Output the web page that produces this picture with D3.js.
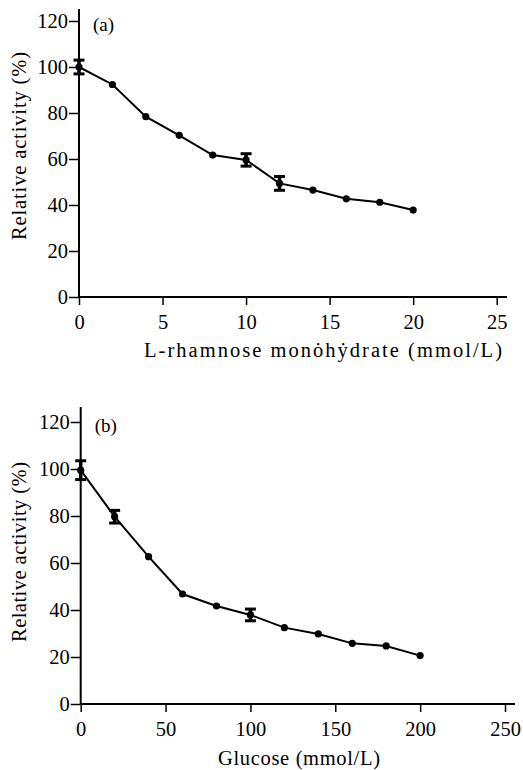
<!DOCTYPE html>
<html>
<head>
<meta charset="utf-8">
<script src="https://cdn.jsdelivr.net/npm/d3@7"></script>
<style>
  body { margin: 0; background: #fff; }
</style>
</head>
<body>
<svg id="chart" width="523" height="770"></svg>
<script>
// panel (a) data: L-rhamnose monohydrate
const rhamX = [0, 2, 4, 6, 8, 10, 12, 14, 16, 18, 20];
const rhamY = [100, 92.4, 78.4, 70.3, 61.7, 59.6, 49.4, 46.5, 42.7, 41.2, 37.8];
const rhamErr = [3, 0, 0, 0, 0, 2.7, 3, 0, 0, 0, 0];

// panel (b) data: glucose
const glucX = [0, 20, 40, 60, 80, 100, 120, 140, 160, 180, 200];
const glucY = [99.5, 79.7, 62.7, 46.8, 41.7, 37.9, 32.5, 29.8, 25.8, 24.7, 20.6];
const glucErr = [4, 2.7, 0, 0, 0, 2.5, 0, 0, 0, 0, 0];

const yTicks = [0, 20, 40, 60, 80, 100, 120];
const rhamTicks = [0, 5, 10, 15, 20, 25];
const glucTicks = [0, 50, 100, 150, 200, 250];

const FONT = '"Liberation Serif", "Times New Roman", serif';
const svg = d3.select('#chart');

function drawPanel(opts) {
    const g = svg.append('g');
    const x = d3.scaleLinear().domain(opts.xDomain).range([opts.left, opts.right]);
    const y = d3.scaleLinear().domain([0, 120]).range([opts.bottom, opts.top120]);

    // axes
    const xAxis = g.append('g')
        .attr('transform', `translate(0,${opts.bottom})`)
        .call(d3.axisBottom(x).tickValues(opts.xTicks).tickSize(8).tickPadding(5).tickSizeOuter(0));
    const yAxis = g.append('g')
        .attr('transform', `translate(${opts.left},0)`)
        .call(d3.axisLeft(y).tickValues(yTicks).tickSize(10).tickPadding(1).tickSizeOuter(0));

    [xAxis, yAxis].forEach(a => {
        a.attr('font-family', null).attr('font-size', null);
        a.select('.domain').remove();
        a.selectAll('line').attr('stroke', '#000').attr('stroke-width', 1.5);
        a.selectAll('text').style('font-family', FONT).style('font-size', '20.5px').attr('fill', '#000');
    });
    xAxis.selectAll('text').attr('dy', '0.95em');

    // axis lines, extended a bit past the last tick
    g.append('line')
        .attr('x1', opts.left).attr('x2', opts.axisEndX)
        .attr('y1', opts.bottom).attr('y2', opts.bottom)
        .attr('stroke', '#000').attr('stroke-width', 2);
    g.append('line')
        .attr('x1', opts.left).attr('x2', opts.left)
        .attr('y1', opts.bottom).attr('y2', opts.axisTopY)
        .attr('stroke', '#000').attr('stroke-width', 2);

    const pts = opts.xs.map((v, i) => ({ x: v, y: opts.ys[i], e: opts.errs[i] }));

    // line
    g.append('path')
        .datum(pts)
        .attr('fill', 'none')
        .attr('stroke', '#000')
        .attr('stroke-width', 2)
        .attr('d', d3.line().x(d => x(d.x)).y(d => y(d.y)));

    // error bars
    const eb = g.selectAll('.err').data(pts.filter(d => d.e > 0)).enter().append('g');
    eb.append('line')
        .attr('x1', d => x(d.x)).attr('x2', d => x(d.x))
        .attr('y1', d => y(d.y - d.e)).attr('y2', d => y(d.y + d.e))
        .attr('stroke', '#000').attr('stroke-width', 3.5);
    eb.append('line')
        .attr('x1', d => x(d.x) - 5.5).attr('x2', d => x(d.x) + 5.5)
        .attr('y1', d => y(d.y + d.e)).attr('y2', d => y(d.y + d.e))
        .attr('stroke', '#000').attr('stroke-width', 3);
    eb.append('line')
        .attr('x1', d => x(d.x) - 5.5).attr('x2', d => x(d.x) + 5.5)
        .attr('y1', d => y(d.y - d.e)).attr('y2', d => y(d.y - d.e))
        .attr('stroke', '#000').attr('stroke-width', 3);

    // markers
    g.selectAll('.pt').data(pts).enter().append('circle')
        .attr('cx', d => x(d.x)).attr('cy', d => y(d.y))
        .attr('r', 3.6).attr('fill', '#000');

    // panel label
    g.append('text')
        .attr('x', opts.left + 14).attr('y', opts.top120 + 10)
        .style('font-family', FONT).style('font-size', '19px')
        .text(opts.label);

    // x title
    g.append('text')
        .attr('x', opts.xTitleX).attr('y', opts.xTitleY)
        .attr('text-anchor', 'middle')
        .attr('textLength', opts.xTitleLen).attr('lengthAdjust', 'spacing')
        .style('font-family', FONT).style('font-size', '20.5px')
        .text(opts.xTitle);

    // y title
    g.append('text')
        .attr('transform', `translate(26,${opts.yTitleY}) rotate(-90)`)
        .attr('text-anchor', 'middle')
        .attr('textLength', opts.yTitleLen).attr('lengthAdjust', 'spacing')
        .style('font-family', FONT).style('font-size', '20.5px')
        .text('Relative activity (%)');
}

drawPanel({
    xs: rhamX, ys: rhamY, errs: rhamErr,
    xDomain: [0, 25], xTicks: rhamTicks,
    left: 79, right: 496.7, bottom: 297, top120: 21,
    axisEndX: 507, axisTopY: 9,
    label: '(a)',
    xTitle: 'L-rhamnose monȯhẏdrate (mmol/L)', xTitleX: 323, xTitleY: 357, xTitleLen: 358,
    yTitleY: 146, yTitleLen: 188
});

drawPanel({
    xs: glucX, ys: glucY, errs: glucErr,
    xDomain: [0, 250], xTicks: glucTicks,
    left: 80.7, right: 505, bottom: 704, top120: 422,
    axisEndX: 515, axisTopY: 407,
    label: '(b)',
    xTitle: 'Glucose (mmol/L)', xTitleX: 299, xTitleY: 765, xTitleLen: 162,
    yTitleY: 552, yTitleLen: 180
});
</script>
</body>
</html>
